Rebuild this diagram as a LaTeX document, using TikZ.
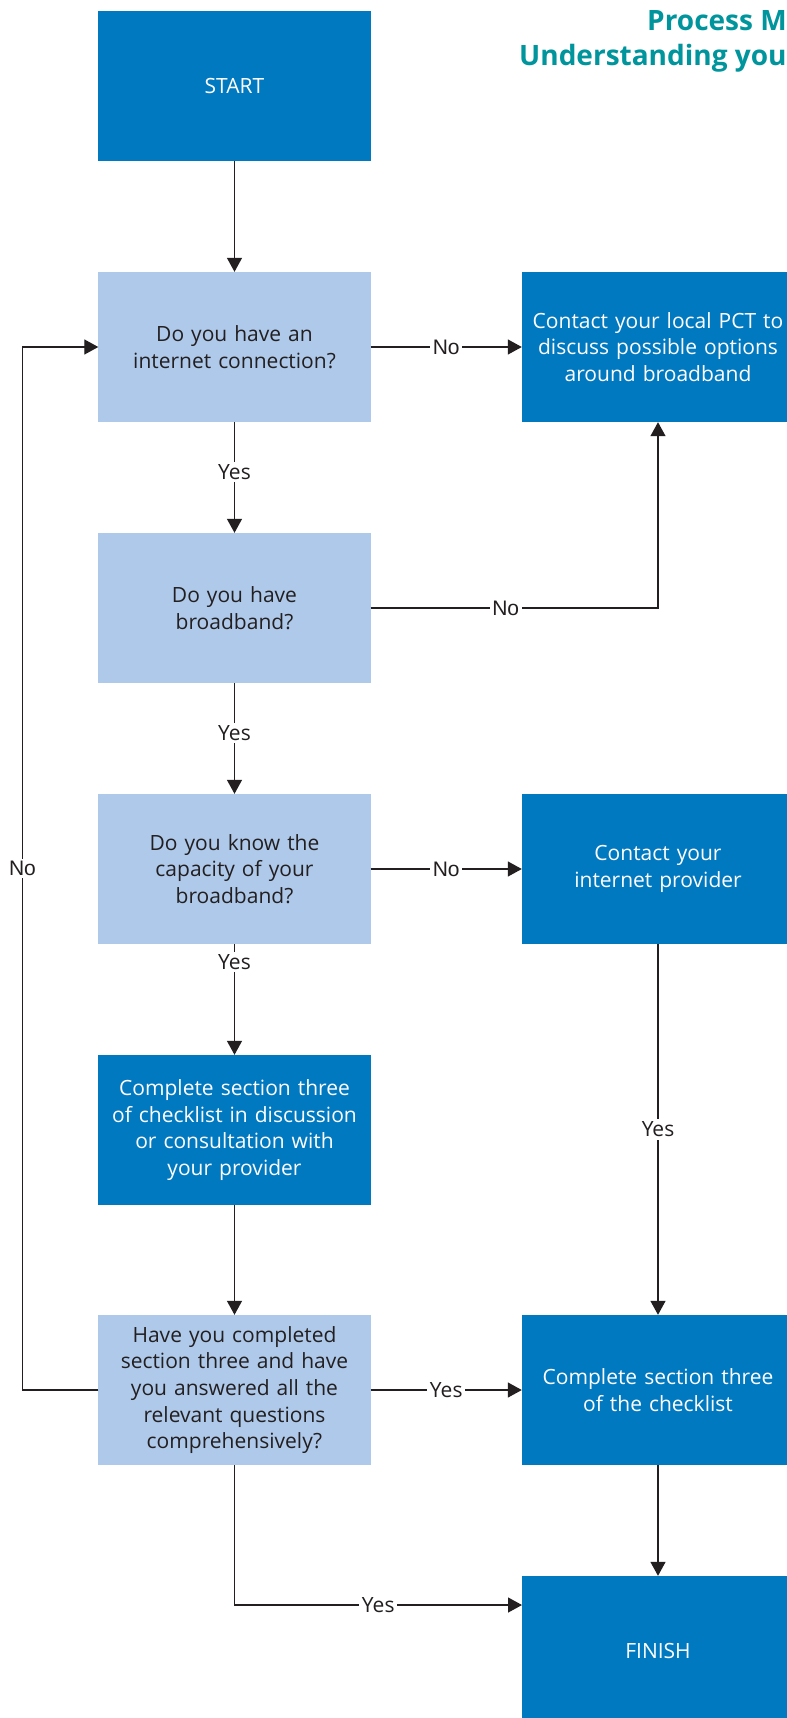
\documentclass[tikz,border=0pt]{standalone}
\usepackage{fontspec}
\setmainfont{Open Sans}
\newfontfamily\arialfont{Liberation Sans}
\usetikzlibrary{arrows.meta}
\definecolor{dkblue}{HTML}{0079C1}
\definecolor{ltblue}{HTML}{AEC9EA}
\definecolor{titlecol}{HTML}{00949C}
\definecolor{ink}{HTML}{231F20}
\begin{document}
\begin{tikzpicture}[x=1bp,y=-1bp,
  box/.style={minimum width=272bp,minimum height=150bp,inner sep=0pt,text width=264bp,align=center,font=\fontsize{21bp}{26.7bp}\selectfont},
  dark/.style={box,fill=dkblue,text=white},
  light/.style={box,fill=ltblue,text=ink},
  conn/.style={draw=ink,line width=1.3bp},
  arr/.style={conn,-{Triangle[length=14bp,width=15bp]}},
  yeslab/.style={fill=white,text=ink,inner sep=2.5bp,font=\fontsize{21bp}{26bp}\selectfont},
  nolab/.style={fill=white,text=ink,inner sep=2.5bp,font=\arialfont\fontsize{21bp}{26bp}\selectfont},
  titlestyle/.style={anchor=base west,text=titlecol,inner sep=0pt,font=\bfseries\fontsize{28bp}{34bp}\selectfont}
]
\useasboundingbox (0,0) rectangle (787,1718);
\clip (0,0) rectangle (787,1718);
\fill[white] (0,0) rectangle (787,1718);

\node[titlestyle] (t1) at (647,30) {Process M};
\node[titlestyle] (t2) at (519,65) {Understanding you};

\node[dark]  (start) at (234.5,86)   {START};
\node[light] (q1)    at (234.5,347)  {Do you have an\\internet connection?};
\node[dark]  (pct)   at (658,347)    {Contact your local PCT to\\discuss possible options\\around broadband};
\node[light] (q2)    at (234.5,608)  {Do you have\\broadband?};
\node[light] (q3)    at (234.5,869)  {Do you know the\\capacity of your\\broadband?};
\node[dark]  (isp)   at (658,869)    {Contact your\\internet provider};
\node[dark]  (c3)    at (234.5,1130) {Complete section three\\of checklist in discussion\\or consultation with\\your provider};
\node[light] (q4)    at (234.5,1390) {Have you completed\\section three and have\\you answered all the\\relevant questions\\comprehensively?};
\node[dark]  (c3b)   at (658,1390)   {Complete section three\\of the checklist};
\node[dark]  (fin)   at (658,1651)   {FINISH};

\coordinate (lx) at (22.5,0);
\coordinate (finin) at (522,1605);

\draw[arr] (start) -- (q1);
\draw[arr] (q1) -- node[nolab]{No} (pct);
\draw[arr] (q1) -- node[yeslab,pos=0.45]{Yes} (q2);
\draw[arr] (q2.east) -- node[nolab,pos=0.47]{No} (q2.east -| pct.south) -- (pct.south);
\draw[arr] (q2) -- node[yeslab,pos=0.45]{Yes} (q3);
\draw[arr] (q3) -- node[nolab]{No} (isp);
\draw[arr] (q3) -- node[yeslab,pos=0.16]{Yes} (c3);
\draw[arr] (isp) -- node[yeslab]{Yes} (c3b);
\draw[arr] (c3) -- (q4);
\draw[arr] (q4) -- node[yeslab]{Yes} (c3b);
\draw[arr] (c3b) -- (fin);
\draw[arr] (q4.west) -- (q4.west -| lx) |- node[nolab,pos=0.25]{No} (q1.west);
\draw[arr] (q4.south) |- node[yeslab,pos=0.75]{Yes} (finin);
\end{tikzpicture}
\end{document}
